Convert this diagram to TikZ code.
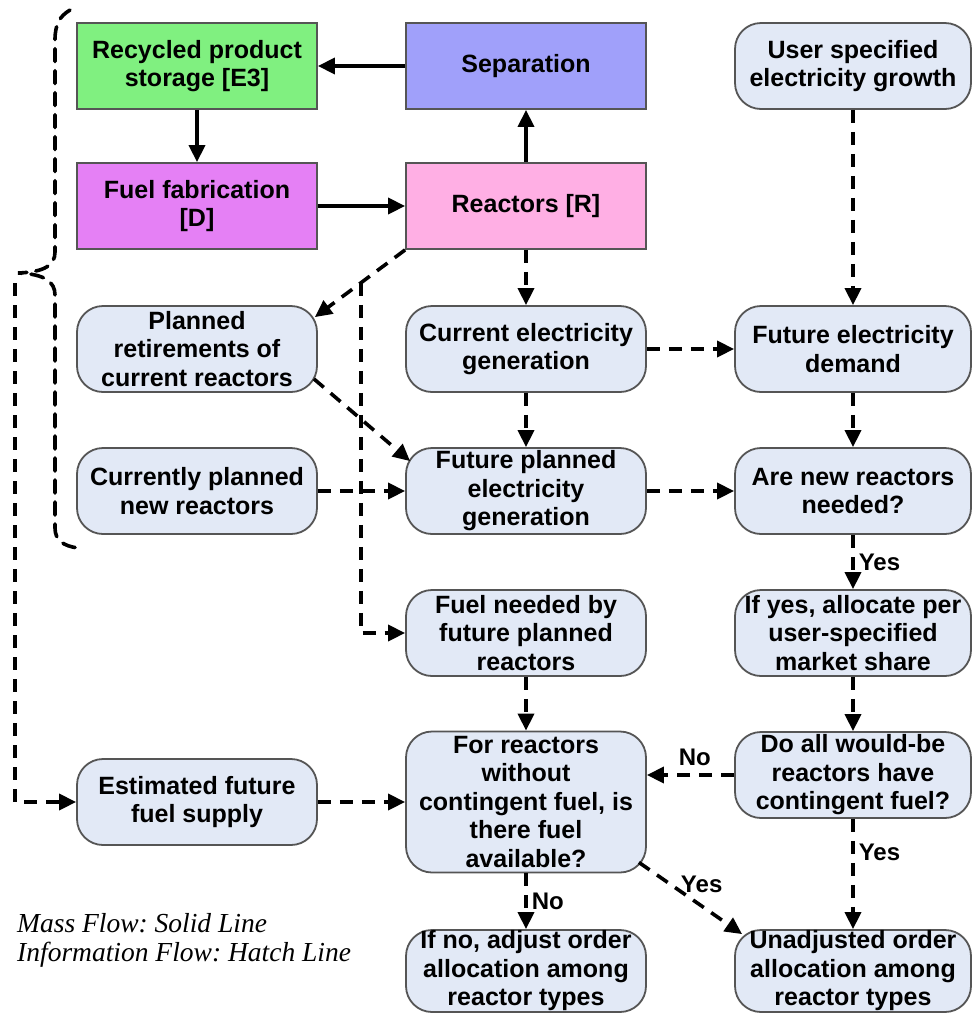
\documentclass[tikz,border=0pt]{standalone}
\usepackage{fontspec}
\setmainfont{Liberation Sans}
\newfontfamily\legendfont{Liberation Serif}
\usetikzlibrary{arrows.meta,calc}

\definecolor{recgreen}{RGB}{128,240,128}
\definecolor{fabpurple}{RGB}{229,128,245}
\definecolor{sepblue}{RGB}{160,160,250}
\definecolor{reapink}{RGB}{255,175,228}
\definecolor{infofill}{RGB}{226,233,246}
\definecolor{edgegray}{RGB}{85,85,85}

\tikzset{
  box/.style={draw=edgegray, line width=1.8pt, align=center, inner sep=0pt,
    font=\fontsize{25}{28.5}\selectfont\bfseries},
  massbox/.style={box, minimum width=240pt, minimum height=86pt},
  infobox/.style={box, fill=infofill, rounded corners=26pt,
    minimum width=240pt, minimum height=86pt},
  mass/.style={line width=3.6pt, -{Triangle[length=17pt,width=16pt]}},
  info/.style={line width=3.6pt, dash pattern=on 13pt off 9pt,
    -{Triangle[length=17pt,width=16pt]}},
  infoline/.style={line width=3.6pt, dash pattern=on 13pt off 9pt},
  flag/.style={font=\fontsize{24}{26}\selectfont\bfseries, inner sep=1pt}
}

\begin{document}
\begin{tikzpicture}[x=1pt, y=-1pt]
\useasboundingbox (0,0) rectangle (972,1013);

% mass-flow loop
\node[massbox, fill=recgreen]  (rec) at (197,66)  {Recycled product\\storage [E3]};
\node[massbox, fill=sepblue]   (sep) at (526,66)  {Separation};
\node[massbox, fill=fabpurple] (fab) at (197,206) {Fuel fabrication\\{[D]}};
\node[massbox, fill=reapink]   (rea) at (526,206) {Reactors [R]};

% information-flow boxes
\node[infobox, minimum width=236pt] (usr) at (853,66)  {User specified\\electricity growth};
\node[infobox] (pr)  at (197,349) {Planned\\retirements of\\current reactors};
\node[infobox] (ceg) at (526,349) {Current electricity\\generation};
\node[infobox, minimum width=236pt] (fed) at (853,349) {Future electricity\\demand};
\node[infobox] (cpn) at (197,491) {Currently planned\\new reactors};
\node[infobox] (fpg) at (526,491) {Future planned\\electricity\\generation};
\node[infobox, minimum width=236pt] (anr) at (853,491) {Are new reactors\\needed?};
\node[infobox] (fn)  at (526,633) {Fuel needed by\\future planned\\reactors};
\node[infobox, minimum width=236pt] (ify) at (853,633) {If yes, allocate per\\user-specified\\market share};
\node[infobox] (es)  at (197,802) {Estimated future\\fuel supply};
\node[infobox, minimum height=141pt] (fr) at (526,802) {For reactors\\without\\contingent fuel, is\\there fuel\\available?};
\node[infobox, minimum width=236pt] (da) at (853,775) {Do all would-be\\reactors have\\contingent fuel?};
\node[infobox, minimum height=82pt] (ifn) at (526,971) {If no, adjust order\\allocation among\\reactor types};
\node[infobox, minimum width=236pt, minimum height=82pt] (un) at (853,971) {Unadjusted order\\allocation among\\reactor types};

% legend
\node[anchor=west, inner sep=0pt, font=\legendfont\itshape\frenchspacing\fontsize{27.5}{29}\selectfont, align=left] (legend) at (17,940)
  {Mass Flow: Solid Line\\Information Flow: Hatch Line};

% solid mass-flow arrows
\draw[mass] (sep.west) -- (rec.east);
\draw[mass] (rec.south) -- (fab.north);
\draw[mass] (fab.east) -- (rea.west);
\draw[mass] (rea.north) -- (sep.south);

% dashed information-flow arrows
\coordinate (prtip) at ($(pr.north east)+(-3,12)$);
\coordinate (br) at ($(rea.south west)!0.49!(prtip)$);
\draw[info] (rea.south west) -- (prtip);
\draw[info] (br) |- (fn.west);
\draw[info] (rea.south) -- (ceg.north);
\draw[info] (usr.south) -- (fed.north);
\draw[info] (ceg.east) -- (fed.west);
\draw[info] (ceg.south) -- (fpg.north);
\draw[info] ($(pr.south east)+(-4,-14)$) -- ($(fpg.north west)+(5,14)$);
\draw[info] (cpn.east) -- (fpg.west);
\draw[info] (fpg.east) -- (anr.west);
\draw[info] (fed.south) -- (anr.north);
\draw[info] (anr.south) -- node[flag, anchor=west, pos=0.5, xshift=3pt] {Yes} (ify.north);
\draw[info] (ify.south) -- (da.north);
\draw[info] (da.west) -- node[flag, above, pos=0.45, yshift=6pt] {No} (da.west -| fr.east);
\draw[info] (da.south) -- node[flag, anchor=west, pos=0.3, xshift=3pt] {Yes} (un.north);
\draw[info] (fn.south) -- (fr.north);
\draw[info] (es.east) -- (fr.west);
\draw[info] (fr.south) -- node[flag, anchor=west, pos=0.5, xshift=3pt] {No} (ifn.north);
\draw[info] ($(fr.south east)+(-8,-11)$) -- node[flag, anchor=south west, pos=0.4, xshift=-2pt, yshift=-4pt] {Yes} ($(un.north west)+(8,5)$);

% brace gathering the current fleet and the fuel cycle
\draw[infoline, line cap=round]
  (70,10) .. controls (60,16) and (55,24) .. (55,40) -- (55,252)
  .. controls (55,265) and (45,272) .. (18,273)
  .. controls (45,274) and (55,282) .. (55,295) -- (55,528)
  .. controls (55,540) and (63,546) .. (78,548);
\coordinate (loop) at (15,283);
\draw[info] (loop) |- (es.west);
\end{tikzpicture}
\end{document}
